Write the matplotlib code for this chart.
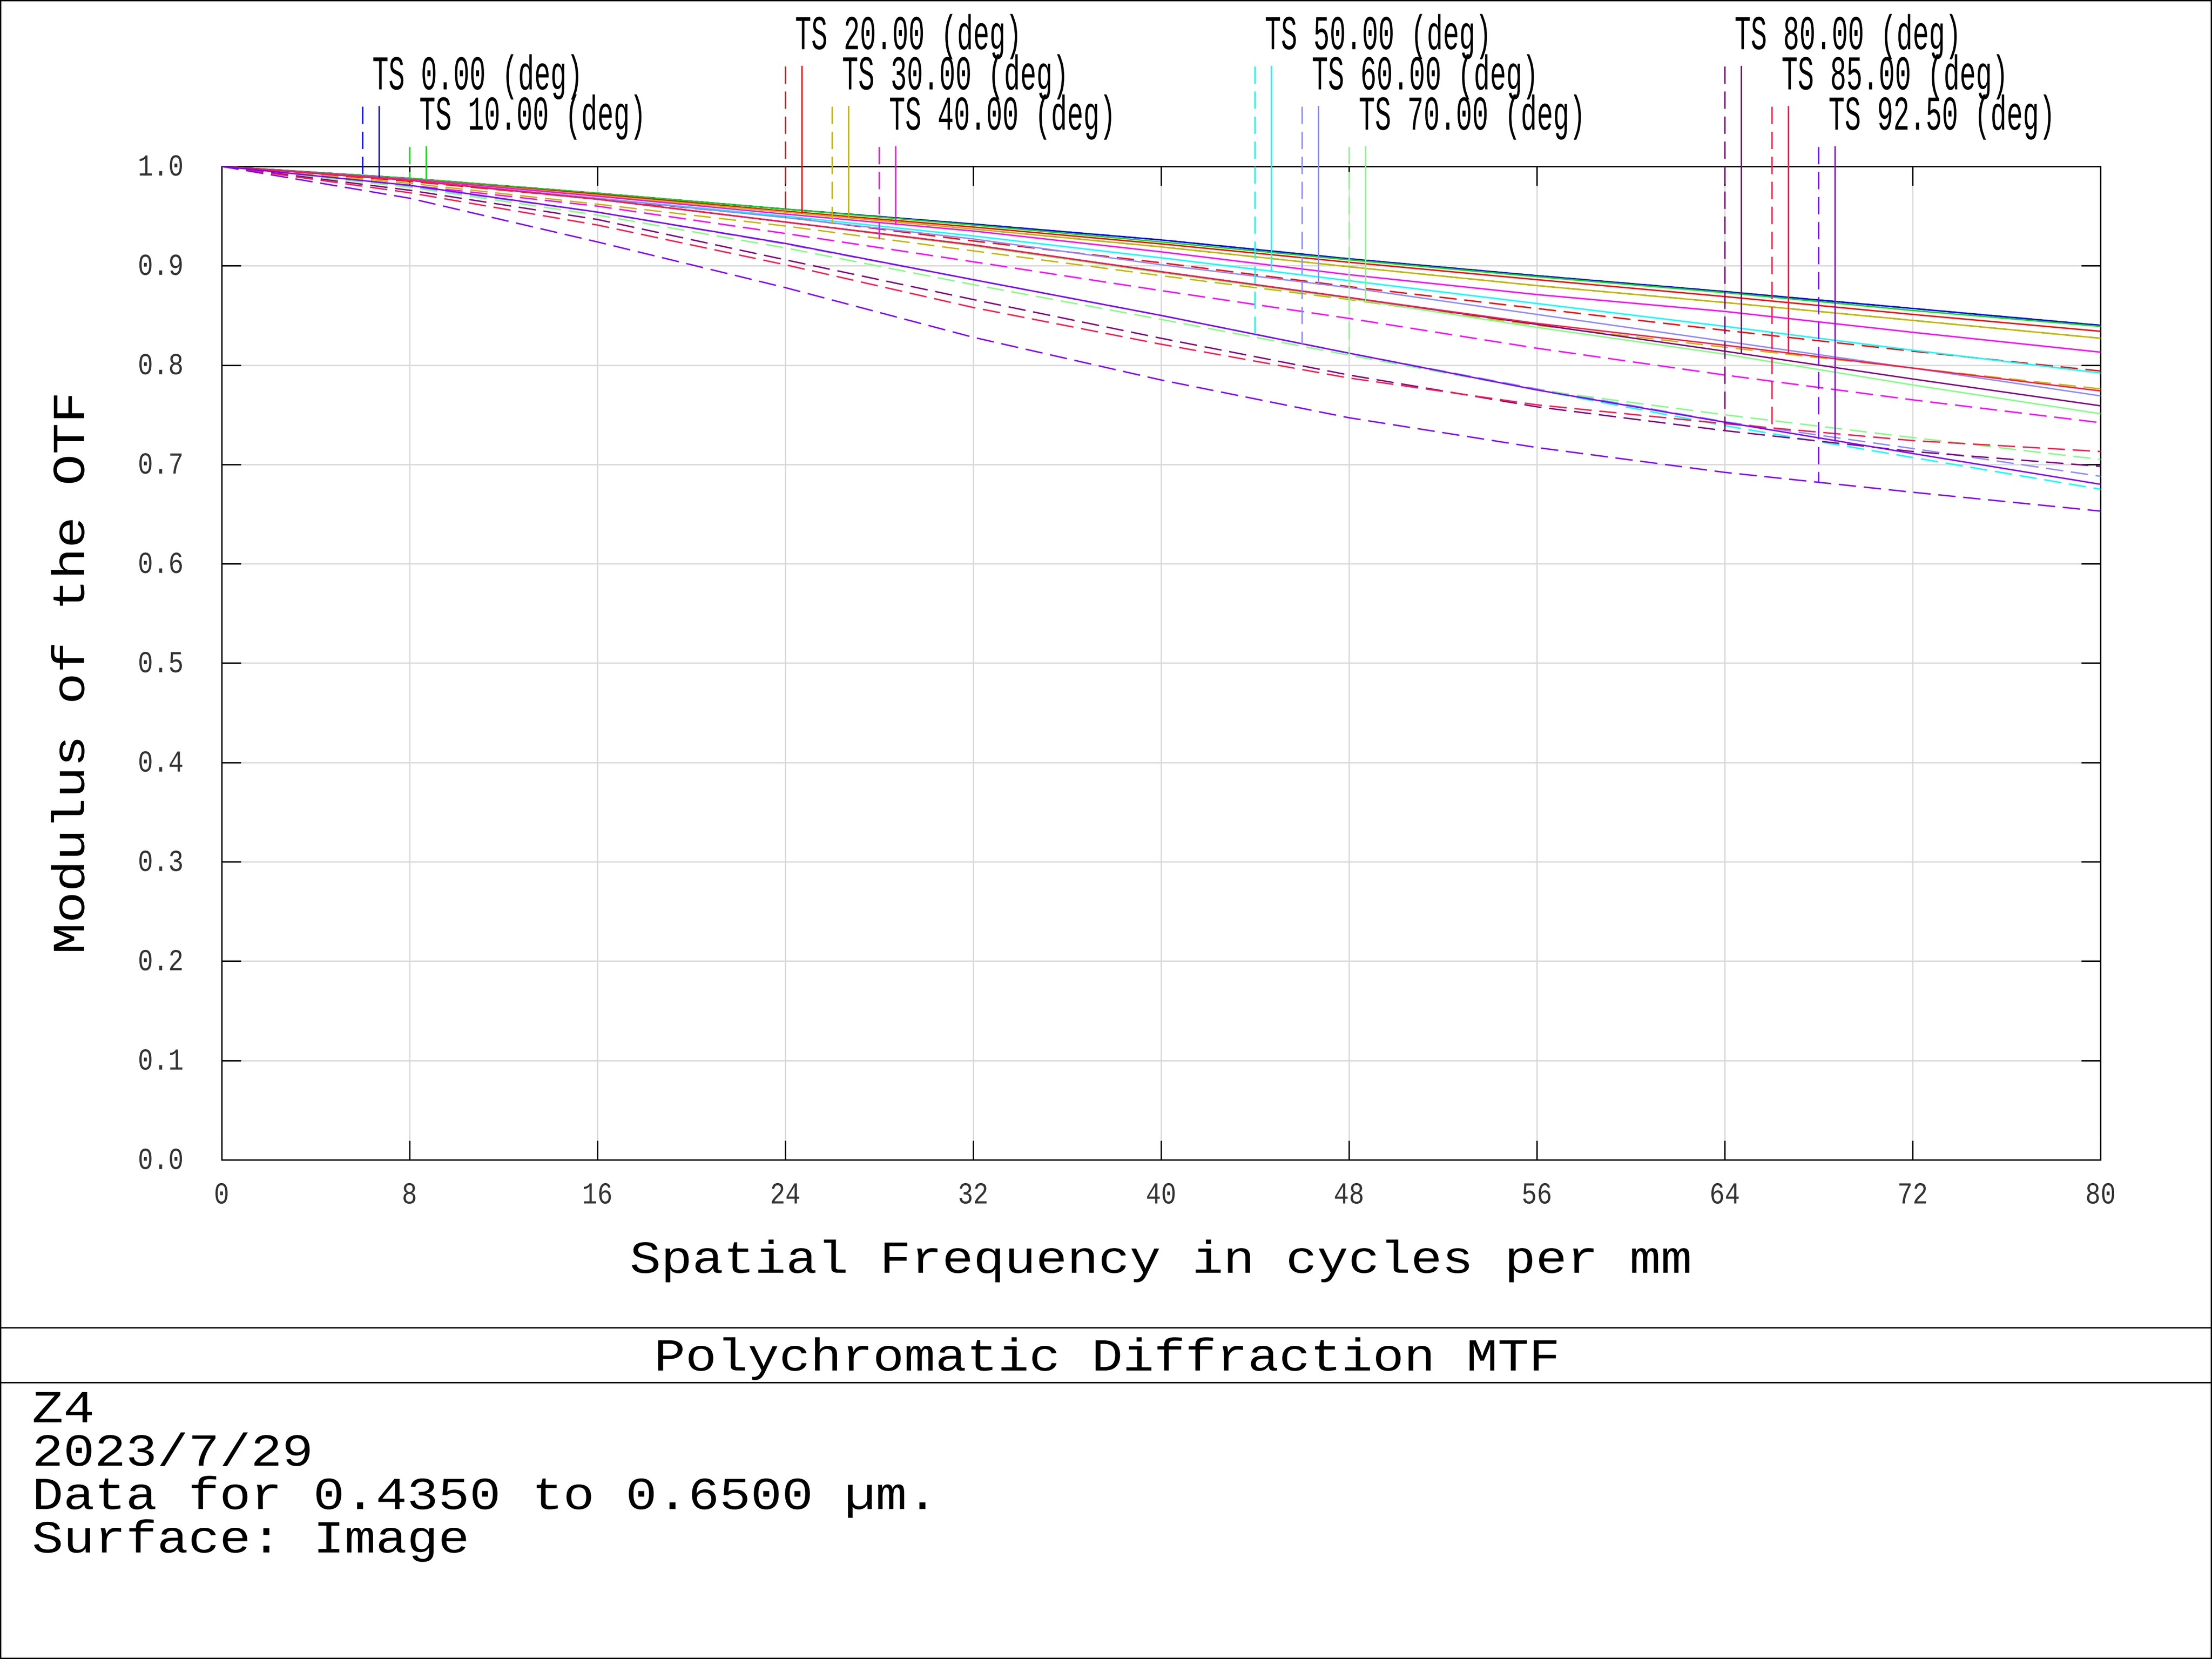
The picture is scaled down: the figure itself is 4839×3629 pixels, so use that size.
import matplotlib
import matplotlib.pyplot as plt
import numpy as np
from matplotlib.lines import Line2D
from matplotlib.patches import Rectangle
from matplotlib.patheffects import AbstractPathEffect
from matplotlib.transforms import Affine2D

matplotlib.use("Agg")

plt.rcParams["font.family"] = ["Liberation Mono", "DejaVu Sans Mono"]

# spatial frequency samples (cycles/mm)
freq = [0, 8, 16, 24, 32, 40, 48, 56, 64, 72, 80]

field_angles = [0.0, 10.0, 20.0, 30.0, 40.0, 50.0, 60.0, 70.0, 80.0, 85.0, 92.5]
field_colors = ["#0000ff", "#00e000", "#ff0000", "#c8b400", "#ff00ff", "#00ffff",
                "#8c8cff", "#80ff80", "#800080", "#ff1a4d", "#8000ff"]

# tangential (dashed) curves, one row per field
mtf_tan = [
    [1.0, 0.988, 0.973, 0.957, 0.942, 0.926, 0.907, 0.890, 0.874, 0.857, 0.840],
    [1.0, 0.987, 0.971, 0.954, 0.937, 0.919, 0.899, 0.880, 0.863, 0.845, 0.827],
    [1.0, 0.985, 0.967, 0.949, 0.925, 0.903, 0.879, 0.857, 0.835, 0.814, 0.794],
    [1.0, 0.983, 0.962, 0.940, 0.915, 0.890, 0.866, 0.840, 0.818, 0.797, 0.776],
    [1.0, 0.981, 0.960, 0.9325, 0.904, 0.875, 0.847, 0.817, 0.790, 0.765, 0.742],
    [1.0, 0.980, 0.954, 0.922, 0.886, 0.850, 0.812, 0.775, 0.739, 0.707, 0.675],
    [1.0, 0.980, 0.954, 0.922, 0.886, 0.850, 0.812, 0.776, 0.743, 0.716, 0.688],
    [1.0, 0.979, 0.951, 0.918, 0.881, 0.846, 0.810, 0.775, 0.750, 0.727, 0.705],
    [1.0, 0.976, 0.9466, 0.906, 0.866, 0.827, 0.790, 0.758, 0.734, 0.713, 0.698],
    [1.0, 0.9735, 0.941, 0.901, 0.858, 0.821, 0.787, 0.760, 0.741, 0.724, 0.713],
    [1.0, 0.968, 0.924, 0.878, 0.828, 0.785, 0.747, 0.717, 0.692, 0.672, 0.653],
]

# sagittal (solid) curves
mtf_sag = [
    [1.0, 0.988, 0.973, 0.957, 0.942, 0.926, 0.907, 0.890, 0.874, 0.857, 0.840],
    [1.0, 0.988, 0.973, 0.957, 0.941, 0.924, 0.906, 0.889, 0.873, 0.855, 0.839],
    [1.0, 0.987, 0.972, 0.955, 0.939, 0.922, 0.9035, 0.886, 0.869, 0.851, 0.834],
    [1.0, 0.987, 0.971, 0.954, 0.937, 0.919, 0.899, 0.880, 0.863, 0.845, 0.827],
    [1.0, 0.987, 0.970, 0.952, 0.935, 0.914, 0.891, 0.871, 0.854, 0.833, 0.813],
    [1.0, 0.986, 0.968, 0.950, 0.930, 0.908, 0.885, 0.862, 0.839, 0.815, 0.792],
    [1.0, 0.986, 0.968, 0.9485, 0.927, 0.901, 0.878, 0.851, 0.824, 0.797, 0.769],
    [1.0, 0.986, 0.967, 0.944, 0.920, 0.893, 0.867, 0.838, 0.811, 0.780, 0.751],
    [1.0, 0.986, 0.967, 0.944, 0.921, 0.894, 0.868, 0.841, 0.814, 0.786, 0.759],
    [1.0, 0.986, 0.967, 0.944, 0.921, 0.894, 0.868, 0.842, 0.820, 0.797, 0.774],
    [1.0, 0.981, 0.954, 0.9225, 0.886, 0.850, 0.812, 0.775, 0.7425, 0.711, 0.680],
]

# where the legend tags drop onto the curves, and which text row they sit in
marker_freq = [6, 8, 24, 26, 28, 44, 46, 48, 64, 66, 68]
label_row = [1, 2, 0, 1, 2, 0, 1, 2, 0, 1, 2]

info_lines = ["Z4", "2023/7/29", "Data for 0.4350 to 0.6500 µm.", "Surface: Image"]


class TallText(AbstractPathEffect):
    """Rescale glyphs vertically about the baseline (condensed / squat plot fonts)."""

    def __init__(self, factor):
        super().__init__()
        self.factor = factor

    def draw_path(self, renderer, gc, tpath, affine, rgbFace=None):
        renderer.draw_path(gc, tpath, Affine2D().scale(1.0, self.factor) + affine, rgbFace)


fig = plt.figure(figsize=(48.39, 36.29), dpi=100)
fig.patch.set_facecolor("white")
ax = fig.add_axes([0.10014, 0.30091, 0.84945, 0.59879])

dash = (12.4, 5.5)
for i, color in enumerate(field_colors):
    ax.plot(freq, mtf_tan[i], color=color, lw=2.2, dashes=dash, zorder=3)
    ax.plot(freq, mtf_sag[i], color=color, lw=2.2, zorder=3)

# legend tags: dashed (T) and solid (S) drop lines plus label
for i, angle in enumerate(field_angles):
    xt = marker_freq[i]
    xs = xt + 0.7
    top = 1.101 - 0.0405 * label_row[i]
    ax.add_line(Line2D([xt, xt], [top, np.interp(xt, freq, mtf_tan[i])], color=field_colors[i],
                       lw=2.2, dashes=dash, clip_on=False, zorder=4))
    ax.add_line(Line2D([xs, xs], [top, np.interp(xs, freq, mtf_sag[i])], color=field_colors[i],
                       lw=2.2, clip_on=False, zorder=4))
    ax.text(xt + 0.42, top + 0.017, f"TS {angle:.2f} (deg)", fontsize=42.5, ha="left", va="baseline",
            clip_on=False, path_effects=[TallText(1.8)])

ax.set_xlim(0, 80)
ax.set_ylim(0, 1.0)
ax.set_xticks(range(0, 81, 8))
ax.set_yticks(np.round(np.arange(0, 1.01, 0.1), 1))
ax.set_yticklabels([f"{v:.1f}" for v in np.arange(0, 1.01, 0.1)])
ax.set_axisbelow(True)
ax.grid(True, color="#d8d8d8", lw=2)
ax.tick_params(direction="in", length=30, width=2.2, top=True, right=True, labelsize=40,
               colors="black", labelcolor="#333333")
ax.tick_params(axis="x", pad=40)
ax.tick_params(axis="y", pad=60)
for spine in ax.spines.values():
    spine.set_linewidth(2.2)
    spine.set_color("black")
for lbl in ax.get_xticklabels() + ax.get_yticklabels():
    lbl.set_path_effects([TallText(1.2)])

squat = [TallText(0.88)]
fig.text(0.5249, 0.2328, "Spatial Frequency in cycles per mm", fontsize=82, ha="center", va="baseline",
         path_effects=squat)
fig.text(0.032, 0.5944, "Modulus of the OTF", fontsize=82, ha="center", va="center", rotation=90,
         path_effects=squat)

# title box and info block
for yf in (0.1998, 0.1667):
    fig.add_artist(Line2D([0, 1], [yf, yf], transform=fig.transFigure, color="black", lw=2.2))
fig.add_artist(Rectangle((0, 0), 1, 1, transform=fig.transFigure, fill=False, edgecolor="black", lw=4))
fig.text(0.5006, 0.1739, "Polychromatic Diffraction MTF", fontsize=82, ha="center", va="baseline",
         path_effects=squat)
fig.text(0.0145, 0.1653, "\n".join(info_lines), fontsize=82, ha="left", va="top", linespacing=0.865,
         path_effects=squat)

fig.savefig("out.png", dpi=100)
